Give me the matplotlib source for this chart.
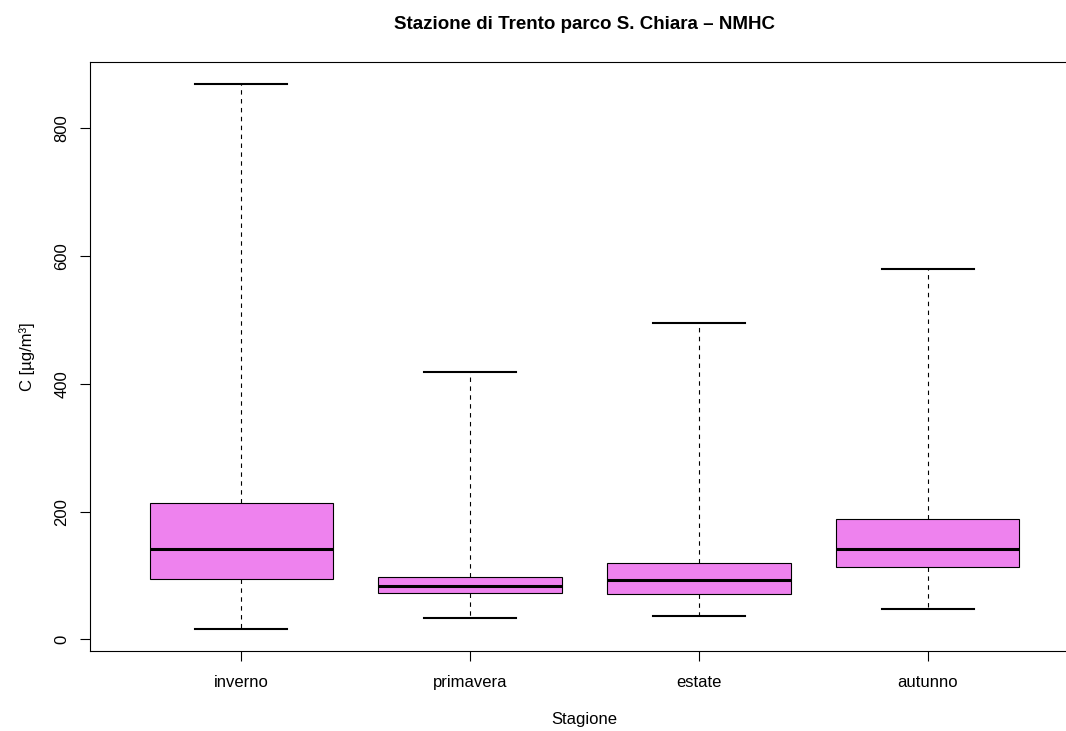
import matplotlib
matplotlib.use('Agg')
import matplotlib.pyplot as plt

plt.rcParams['font.family'] = ['Liberation Sans', 'DejaVu Sans']

# seasonal NMHC stats
stagioni = ['inverno', 'primavera', 'estate', 'autunno']
whisker_low = [16, 34, 36, 48]
q1 = [94, 72, 71, 113]
mediana = [142, 84, 93, 141]
q3 = [214, 97, 120, 189]
whisker_high = [869, 418, 495, 579]

stats = []
for i in range(len(stagioni)):
    stats.append({
        'label': stagioni[i],
        'whislo': whisker_low[i],
        'q1': q1[i],
        'med': mediana[i],
        'q3': q3[i],
        'whishi': whisker_high[i],
        'fliers': [],
    })

W, H = 1066, 731
fig = plt.figure(figsize=(W / 100, H / 100), dpi=100)
# plot region is wider than the image (right side cropped like the original)
left, right, top, bottom = 90, 1079, 62, 651
ax = fig.add_axes([left / W, 1 - bottom / H, (right - left) / W, (bottom - top) / H])

ax.bxp(stats, positions=[1, 2, 3, 4], widths=0.8, capwidths=0.4,
       patch_artist=True, showfliers=False,
       boxprops=dict(facecolor='#EE82EE', edgecolor='black', linewidth=0.8),
       medianprops=dict(color='black', linewidth=2.2, solid_capstyle='butt'),
       whiskerprops=dict(color='black', linewidth=0.8, linestyle=(0, (4, 4))),
       capprops=dict(color='black', linewidth=1.5))

ax.set_xlim(0.34, 4.66)
ax.set_ylim(-18, 903)
ax.set_yticks([0, 200, 400, 600, 800])
ax.set_yticklabels(['0', '200', '400', '600', '800'], rotation=90, va='center')
ax.tick_params(axis='both', length=7, width=0.8, labelsize=12, color='black')
ax.tick_params(axis='y', pad=8)
ax.tick_params(axis='x', pad=10)

for s in ax.spines.values():
    s.set_linewidth(0.8)
    s.set_color('black')

ax.set_title('Stazione di Trento parco S. Chiara – NMHC', fontsize=13.5, fontweight='bold', pad=24)
ax.set_xlabel('Stagione', fontsize=12, labelpad=16)
ax.set_ylabel('C [µg/m³]', fontsize=12, labelpad=14)

fig.savefig('out.png', dpi=100)
